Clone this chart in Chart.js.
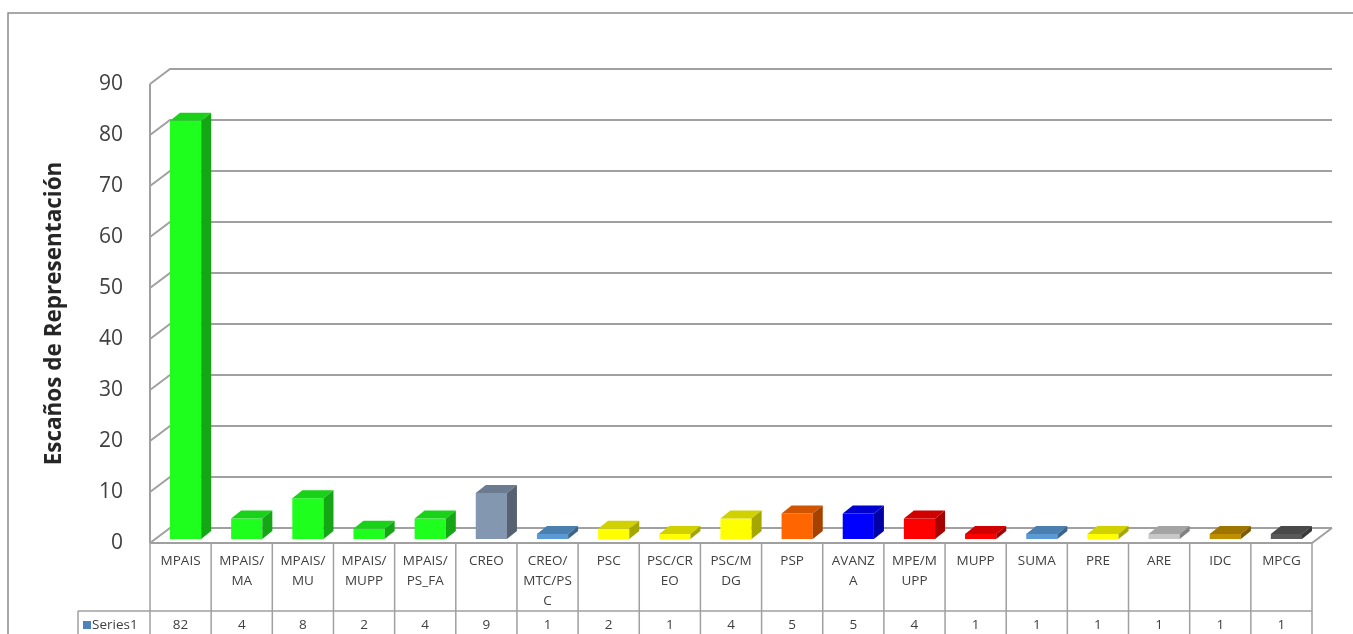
<!DOCTYPE html>
<html lang="es">
<head>
<meta charset="utf-8">
<title>Escaños de Representación</title>
<script src="https://cdn.jsdelivr.net/npm/chart.js@4.4.1/dist/chart.umd.min.js"></script>
<style>
    html, body { margin: 0; padding: 0; background: #fff; }
    #wrap { position: relative; width: 1353px; height: 634px; }
</style>
</head>
<body>
<div id="wrap"><canvas id="escanosChart"></canvas></div>
<script>
// ============================
// DATOS
// ============================

// etiquetas tal como salen cortadas en la tabla de datos
const categorias = [
    ['MPAIS'], ['MPAIS/', 'MA'], ['MPAIS/', 'MU'], ['MPAIS/', 'MUPP'], ['MPAIS/', 'PS_FA'],
    ['CREO'], ['CREO/', 'MTC/PS', 'C'], ['PSC'], ['PSC/CR', 'EO'], ['PSC/M', 'DG'],
    ['PSP'], ['AVANZ', 'A'], ['MPE/M', 'UPP'], ['MUPP'], ['SUMA'], ['PRE'], ['ARE'], ['IDC'], ['MPCG']
];
const escanos = [82, 4, 8, 2, 4, 9, 1, 2, 1, 4, 5, 5, 4, 1, 1, 1, 1, 1, 1];
const ticksY = [0, 10, 20, 30, 40, 50, 60, 70, 80, 90];
const nombreSerie = 'Series1';
const tituloEjeY = 'Escaños de Representación';

// ============================
// ESTILOS
// ============================

const coloresBarras = [
    '#1eff1e', '#1eff1e', '#1eff1e', '#1eff1e', '#1eff1e',
    '#8497b0', '#5b9bd5', '#ffff00', '#ffff00', '#ffff00',
    '#ff6600', '#0000ff', '#ff0000', '#ff0000', '#5b9bd5',
    '#ffff00', '#c8c8c8', '#bf8f00', '#595959'
];

const FUENTE = "'Open Sans', 'Noto Sans', sans-serif";
const GRIS_LINEA = '#a0a0a0';
const TEXTO = '#404040';

// profundidad de las paredes y de las barras
const PARED = { dx: 20, dy: -15 };
const BARRA = { dx: 10, dy: -8 };
const DESPLAZ = { x: 5, y: -4 }; // las barras quedan un poco detrás del borde del piso

function sombra(hex, f) {
    const n = parseInt(hex.slice(1), 16);
    const r = Math.round(((n >> 16) & 255) * f);
    const g = Math.round(((n >> 8) & 255) * f);
    const b = Math.round((n & 255) * f);
    return `rgb(${r},${g},${b})`;
}

// ============================
// PLUGIN: MARCO, PAREDES, 3D Y TABLA
// ============================

const excel3d = {
    id: 'excel3d',

    beforeDraw(chart) {
        const ctx = chart.ctx;
        ctx.save();
        ctx.strokeStyle = '#8c8c8c';
        ctx.lineWidth = 1.5;
        ctx.beginPath();
        ctx.moveTo(8, chart.height);
        ctx.lineTo(8, 13);
        ctx.lineTo(chart.width, 13);
        ctx.stroke();
        ctx.restore();
    },

    beforeDatasetsDraw(chart) {
        const ctx = chart.ctx;
        const { left, right, top, bottom } = chart.chartArea;
        const y = chart.scales.y;

        ctx.save();
        ctx.strokeStyle = GRIS_LINEA;
        ctx.lineWidth = 2;
        ctx.beginPath();

        // líneas de la pared del fondo y la pared izquierda
        ticksY.forEach(v => {
            const py = y.getPixelForValue(v);
            ctx.moveTo(left, py);
            ctx.lineTo(left + PARED.dx, py + PARED.dy);
            ctx.lineTo(right + PARED.dx, py + PARED.dy);
        });

        // eje vertical
        ctx.moveTo(left, top);
        ctx.lineTo(left, bottom);

        // piso
        ctx.moveTo(left, bottom);
        ctx.lineTo(right, bottom);
        ctx.lineTo(right + PARED.dx, bottom + PARED.dy);
        ctx.stroke();
        ctx.restore();

        // las barras se dibujan corridas hacia el fondo
        ctx.save();
        ctx.translate(DESPLAZ.x, DESPLAZ.y);
    },

    afterDatasetsDraw(chart) {
        const ctx = chart.ctx;
        const meta = chart.getDatasetMeta(0);

        meta.data.forEach((bar, i) => {
            const { x, y, base, width } = bar.getProps(['x', 'y', 'base', 'width'], true);
            const l = x - width / 2;
            const r = x + width / 2;
            const color = coloresBarras[i];

            // cara superior
            ctx.fillStyle = sombra(color, 0.82);
            ctx.beginPath();
            ctx.moveTo(l, y);
            ctx.lineTo(l + BARRA.dx, y + BARRA.dy);
            ctx.lineTo(r + BARRA.dx, y + BARRA.dy);
            ctx.lineTo(r, y);
            ctx.closePath();
            ctx.fill();

            // cara lateral
            ctx.fillStyle = sombra(color, 0.65);
            ctx.beginPath();
            ctx.moveTo(r, y);
            ctx.lineTo(r + BARRA.dx, y + BARRA.dy);
            ctx.lineTo(r + BARRA.dx, base + BARRA.dy);
            ctx.lineTo(r, base);
            ctx.closePath();
            ctx.fill();
        });

        ctx.restore();
    },

    afterDraw(chart) {
        const ctx = chart.ctx;
        const { left, right, bottom } = chart.chartArea;
        const n = categorias.length;
        const colW = (right - left) / n;
        const filaValores = bottom + 68;
        const fondo = chart.height;

        ctx.save();
        ctx.strokeStyle = GRIS_LINEA;
        ctx.lineWidth = 1.5;
        ctx.beginPath();

        // columnas de la tabla
        for (let i = 0; i <= n; i++) {
            const px = left + i * colW;
            ctx.moveTo(px, bottom);
            ctx.lineTo(px, fondo);
        }
        // separación etiquetas / valores
        ctx.moveTo(78, filaValores);
        ctx.lineTo(right, filaValores);
        ctx.moveTo(78, filaValores);
        ctx.lineTo(78, fondo);
        ctx.stroke();

        // textos
        ctx.fillStyle = TEXTO;
        ctx.font = `13.5px ${FUENTE}`;
        ctx.textAlign = 'center';
        ctx.textBaseline = 'middle';

        const xs = chart.scales.x;
        categorias.forEach((lineas, i) => {
            const cx = xs.getPixelForValue(i);
            lineas.forEach((t, k) => ctx.fillText(t, cx, bottom + 18 + k * 20));
            ctx.fillText(String(escanos[i]), cx, filaValores + 14);
        });

        // leyenda de la serie
        ctx.fillStyle = '#4f81bd';
        ctx.fillRect(83, filaValores + 10, 8, 8);
        ctx.fillStyle = TEXTO;
        ctx.textAlign = 'left';
        ctx.fillText(nombreSerie, 92, filaValores + 14);
        ctx.restore();
    }
};

// ============================
// GRAFICO
// ============================

const ctx = document.getElementById('escanosChart').getContext('2d');

const escanosChart = new Chart(ctx, {
    type: 'bar',
    data: {
        labels: categorias,
        datasets: [{
            label: nombreSerie,
            data: escanos,
            backgroundColor: coloresBarras,
            borderWidth: 0,
            barPercentage: 0.51,
            categoryPercentage: 1,
            clip: false
        }]
    },
    options: {
        responsive: true,
        maintainAspectRatio: false,
        animation: false,
        events: [],
        layout: {
            padding: { top: 84, bottom: 91, left: 0, right: 41 }
        },
        plugins: {
            legend: { display: false },
            tooltip: { enabled: false }
        },
        scales: {
            x: {
                display: false
            },
            y: {
                min: ticksY[0],
                max: ticksY[ticksY.length - 1],
                afterFit: scale => { scale.width = 150; },
                grid: { display: false, drawTicks: false },
                border: { display: false },
                ticks: {
                    stepSize: ticksY[1] - ticksY[0],
                    padding: 27,
                    color: TEXTO,
                    font: { family: FUENTE, size: 21 }
                },
                title: {
                    display: true,
                    text: tituloEjeY,
                    color: '#262626',
                    padding: { top: 41, bottom: 0 },
                    font: { family: FUENTE, size: 22.5, weight: 'bold' }
                }
            }
        }
    },
    plugins: [excel3d]
});
</script>
</body>
</html>
